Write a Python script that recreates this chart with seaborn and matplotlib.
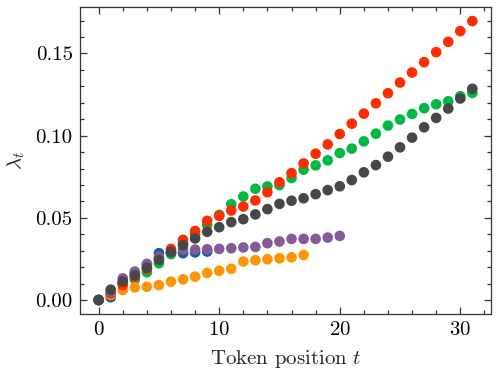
import numpy as np
import pandas as pd
import matplotlib
matplotlib.use("Agg")
import matplotlib.pyplot as plt
from matplotlib.ticker import MultipleLocator
import seaborn as sns

# Series values (lambda_t per token position)
blue = [0.0, 0.0017, 0.0105, 0.0160, 0.0215, 0.0285, 0.0288, 0.0285, 0.0290, 0.0295]
green = [0.0, 0.0040, 0.0100, 0.0126, 0.0169, 0.0224, 0.0279, 0.0346, 0.0400, 0.0457,
         0.0518, 0.0583, 0.0630, 0.0677, 0.0691, 0.0699, 0.0742, 0.0793, 0.0819, 0.0850,
         0.0894, 0.0921, 0.0965, 0.1012, 0.1061, 0.1098, 0.1132, 0.1167, 0.1191, 0.1209,
         0.1240, 0.1260]
orange = [0.0, 0.0030, 0.0061, 0.0077, 0.0081, 0.0091, 0.0112, 0.0126, 0.0142, 0.0165,
          0.0178, 0.0190, 0.0234, 0.0242, 0.0248, 0.0254, 0.0260, 0.0274]
red = [0.0, 0.0040, 0.0091, 0.0142, 0.0190, 0.0250, 0.0311, 0.0366, 0.0420, 0.0482,
       0.0512, 0.0545, 0.0569, 0.0606, 0.0656, 0.0716, 0.0772, 0.0831, 0.0890, 0.0947,
       0.1010, 0.1073, 0.1134, 0.1197, 0.1258, 0.1323, 0.1384, 0.1447, 0.1508, 0.1571,
       0.1636, 0.1697]
purple = [0.0, 0.0050, 0.0132, 0.0173, 0.0220, 0.0264, 0.0290, 0.0305, 0.0307, 0.0309,
          0.0311, 0.0315, 0.0320, 0.0323, 0.0346, 0.0356, 0.0372, 0.0372, 0.0372, 0.0380,
          0.0390]
gray = [0.0, 0.0063, 0.0114, 0.0150, 0.0197, 0.0244, 0.0293, 0.0333, 0.0375, 0.0415,
        0.0443, 0.0474, 0.0492, 0.0521, 0.0553, 0.0585, 0.0604, 0.0619, 0.0644, 0.0669,
        0.0692, 0.0730, 0.0777, 0.0821, 0.0872, 0.0929, 0.0988, 0.1051, 0.1108, 0.1165,
        0.1226, 0.1285]

series = {"blue": blue, "green": green, "orange": orange,
          "red": red, "purple": purple, "gray": gray}
colors = {"blue": "#0C5DA5", "green": "#00B945", "orange": "#FF9500",
          "red": "#FF2C00", "purple": "#845B97", "gray": "#474747"}

frames = []
for name, vals in series.items():
    frames.append(pd.DataFrame({"t": np.arange(len(vals)), "lam": vals, "series": name}))
df = pd.concat(frames, ignore_index=True)

sns.set_style("ticks")
plt.rcParams.update({
    "font.family": "serif",
    "font.serif": ["cmr10"],
    "mathtext.fontset": "cm",
    "axes.formatter.use_mathtext": True,
    "font.size": 10,
    "axes.labelsize": 10,
    "xtick.labelsize": 10,
    "ytick.labelsize": 10,
    "axes.linewidth": 0.6,
    "axes.edgecolor": "#333333",
    "xtick.direction": "in",
    "ytick.direction": "in",
    "xtick.top": True,
    "ytick.right": True,
    "xtick.major.size": 3.5,
    "ytick.major.size": 3.5,
    "xtick.minor.size": 2,
    "ytick.minor.size": 2,
    "xtick.major.width": 0.6,
    "ytick.major.width": 0.6,
    "xtick.minor.width": 0.6,
    "ytick.minor.width": 0.6,
    "xtick.minor.visible": True,
    "ytick.minor.visible": True,
    "xtick.color": "#333333",
    "ytick.color": "#333333",
    "xtick.labelcolor": "black",
    "ytick.labelcolor": "black",
})

fig = plt.figure(figsize=(3.32, 2.5), dpi=150)
ax = fig.add_axes([0.1606, 0.1627, 0.986 - 0.1606, 0.981 - 0.1627])
sns.scatterplot(data=df, x="t", y="lam", hue="series", palette=colors,
                hue_order=list(series.keys()), s=26, linewidth=0, alpha=1,
                legend=False, ax=ax)
ax.set_xlabel(r"Token position $t$")
ax.set_ylabel(r"$\lambda_t$")
ax.xaxis.set_major_locator(MultipleLocator(10))
ax.xaxis.set_minor_locator(MultipleLocator(2))
ax.yaxis.set_major_locator(MultipleLocator(0.05))
ax.yaxis.set_minor_locator(MultipleLocator(0.01))
ax.yaxis.set_major_formatter(matplotlib.ticker.FormatStrFormatter("%.2f"))
ax.tick_params(which="both", top=True, right=True, direction="in")
fig.savefig("out.png", dpi=150)
